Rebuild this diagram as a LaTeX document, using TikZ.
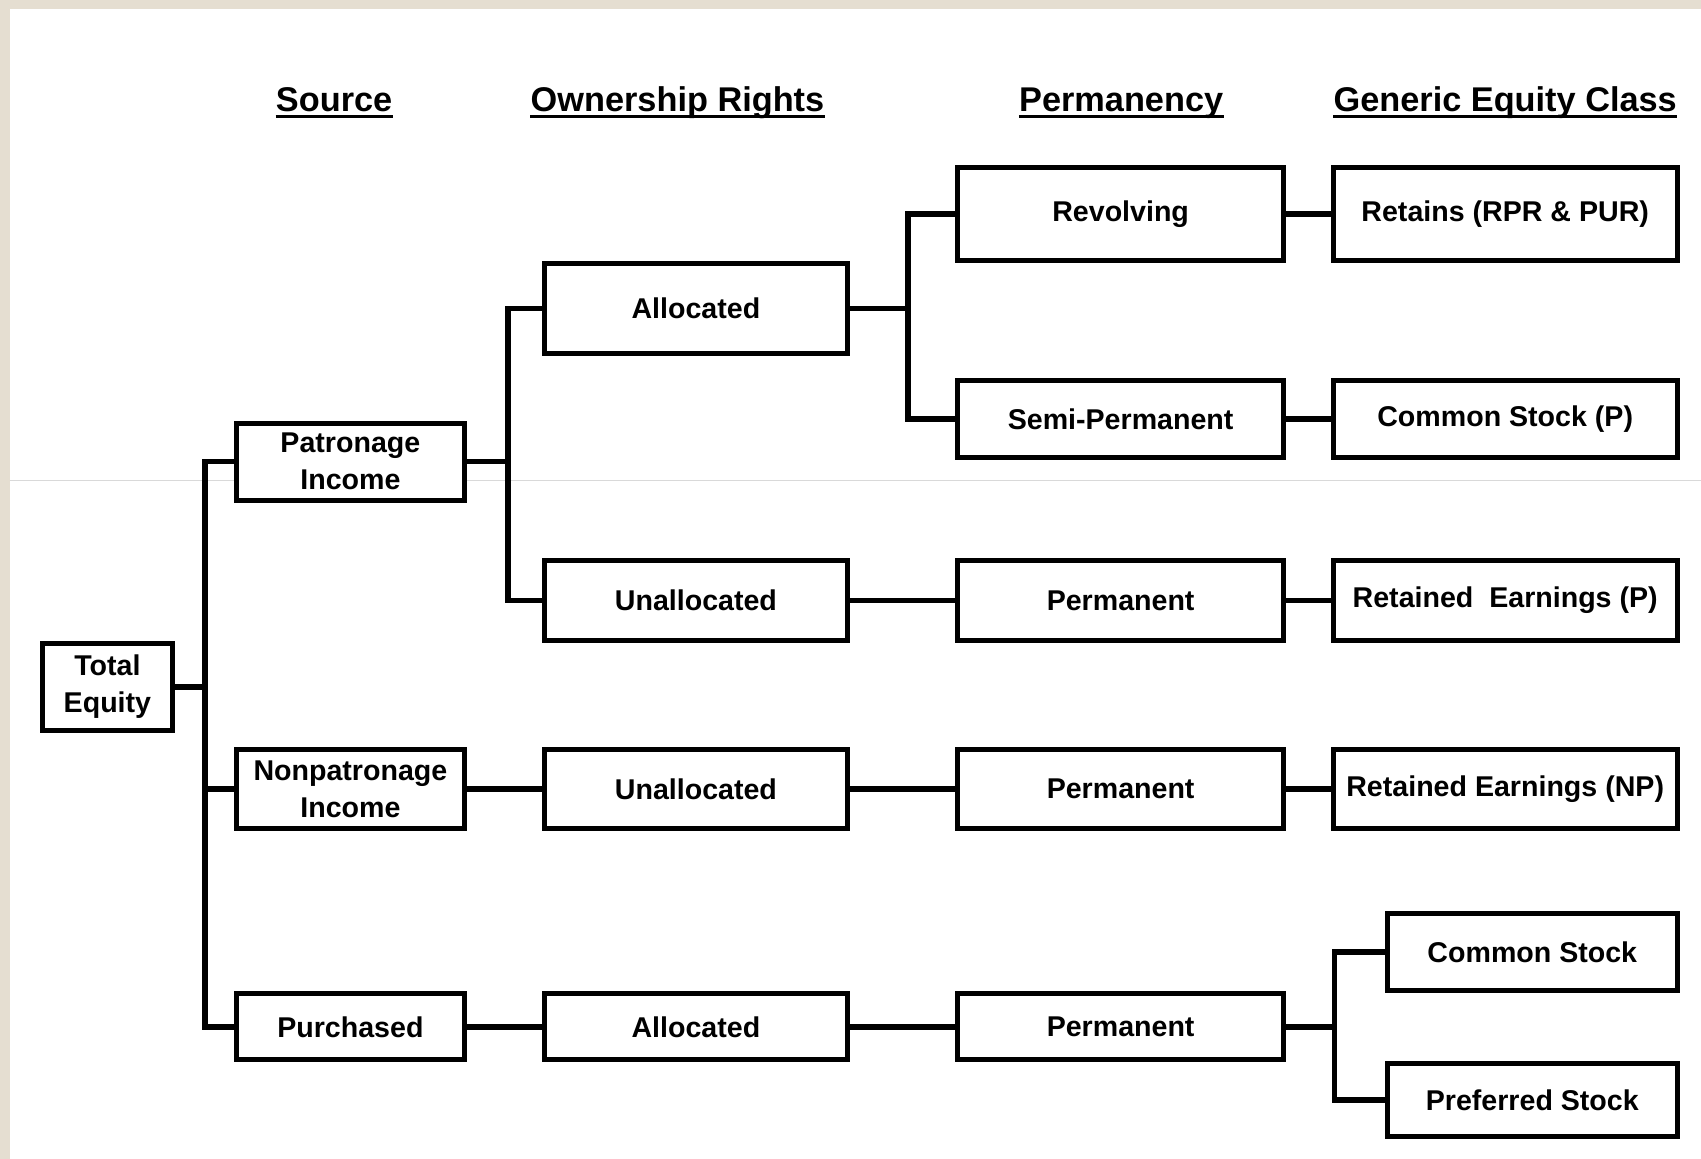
\documentclass[tikz,border=0pt]{standalone}
\usepackage{fontspec}
\setmainfont{Liberation Sans}
\definecolor{beige}{RGB}{229,222,209}
\begin{document}
\begin{tikzpicture}[x=0.02cm,y=-0.02cm,
  box/.style={draw, line width=2.6pt, inner sep=0pt, align=center, fill=white,
    font=\fontsize{15}{19.5}\selectfont\bfseries},
  conn/.style={line width=3pt, line join=miter},
  head/.style={anchor=base, inner sep=0pt, font=\fontsize{18}{22}\selectfont\bfseries},
  ul/.style={line width=1.7pt}]
\useasboundingbox (0,0) rectangle (1568,1068);
\fill[beige] (0,0) rectangle (1568,1068);
\fill[white] (9,8) rectangle (1568,1068);
\draw[black!15, line width=0.6pt] (9,443) -- (1568,443);

% headings
\node[head] (h1) at (308,103) {Source};
\node[head] (h2) at (624.5,103) {Ownership Rights};
\node[head] (h3) at (1033.5,103) {Permanency};
\node[head] (h4) at (1387.5,103) {Generic Equity Class};
\foreach \h in {h1,h2,h3,h4}
  \draw[ul] ([yshift=-0.09cm]\h.base west) -- ([yshift=-0.09cm]\h.base east);

% column 1
\node[box, minimum width=2.40cm, minimum height=1.60cm] (te) at (99,633) {Total\\Equity};
% column 2
\node[box, minimum width=4.20cm, minimum height=1.42cm] (pat) at (323,425.5) {Patronage\\Income};
\node[box, minimum width=4.20cm, minimum height=1.46cm] (npat) at (323,727.5) {Nonpatronage\\Income};
\node[box, minimum width=4.20cm, minimum height=1.22cm] (pur) at (323,946.5) {Purchased};
% column 3
\node[box, minimum width=5.58cm, minimum height=1.66cm] (alA) at (641.5,284.5) {Allocated};
\node[box, minimum width=5.58cm, minimum height=1.46cm] (unA) at (641.5,553.5) {Unallocated};
\node[box, minimum width=5.58cm, minimum height=1.46cm] (unB) at (641.5,727.5) {Unallocated};
\node[box, minimum width=5.58cm, minimum height=1.22cm] (alB) at (641.5,946.5) {Allocated};
% column 4
\node[box, minimum width=6.00cm, minimum height=1.72cm] (rev) at (1033,197) {Revolving};
\node[box, minimum width=6.00cm, minimum height=1.42cm] (semi) at (1033,386.5) {Semi-Permanent};
\node[box, minimum width=6.00cm, minimum height=1.46cm] (pmA) at (1033,553.5) {Permanent};
\node[box, minimum width=6.00cm, minimum height=1.46cm] (pmB) at (1033,727.5) {Permanent};
\node[box, minimum width=6.00cm, minimum height=1.22cm] (pmC) at (1033,946.5) {Permanent};
% column 5
\node[box, minimum width=6.34cm, minimum height=1.72cm] (ret) at (1387.5,197) {Retains (RPR \& PUR)};
\node[box, minimum width=6.34cm, minimum height=1.42cm] (csp) at (1387.5,386.5) {Common Stock (P)};
\node[box, minimum width=6.34cm, minimum height=1.46cm] (rep) at (1387.5,553.5) {Retained~ Earnings (P)};
\node[box, minimum width=6.34cm, minimum height=1.46cm] (renp) at (1387.5,727.5) {Retained Earnings (NP)};
% column 6
\node[box, minimum width=5.34cm, minimum height=1.42cm] (cs) at (1412.5,877.5) {Common Stock};
\node[box, minimum width=5.34cm, minimum height=1.36cm] (ps) at (1412.5,1014) {Preferred Stock};

% connectors
\draw[conn] (te.east) -- ++(28,0) coordinate (b1);
\draw[conn] (b1) |- (pat.west);
\draw[conn] (b1) |- (npat.west);
\draw[conn] (b1) |- (pur.west);

\draw[conn] (pat.east) -- ++(38,0) coordinate (b2);
\draw[conn] (b2) |- (alA.west);
\draw[conn] (b2) |- (unA.west);

\draw[conn] (alA.east) -- ++(54,0) coordinate (b3);
\draw[conn] (b3) |- (rev.west);
\draw[conn] (b3) |- (semi.west);

\draw[conn] (rev.east) -- (ret.west);
\draw[conn] (semi.east) -- (csp.west);
\draw[conn] (unA.east) -- (pmA.west);
\draw[conn] (pmA.east) -- (rep.west);
\draw[conn] (npat.east) -- (unB.west);
\draw[conn] (unB.east) -- (pmB.west);
\draw[conn] (pmB.east) -- (renp.west);
\draw[conn] (pur.east) -- (alB.west);
\draw[conn] (alB.east) -- (pmC.west);

\draw[conn] (pmC.east) -- ++(45,0) coordinate (b4);
\draw[conn] (b4) |- (cs.west);
\draw[conn] (b4) |- (ps.west);
\end{tikzpicture}
\end{document}
